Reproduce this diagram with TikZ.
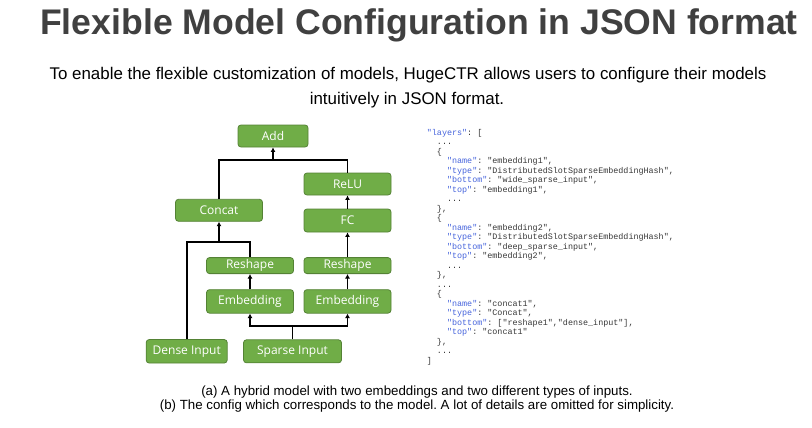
\documentclass[tikz,border=0pt]{standalone}
\usepackage{fontspec}
\setmainfont{Liberation Sans}
\setmonofont{Liberation Mono}
\newfontfamily\boxfont{Open Sans}
\usepackage{xcolor}
\usetikzlibrary{
  arrows.meta,
  positioning
}
\definecolor{layergreen}{RGB}{112,173,71}
\definecolor{layeredge}{RGB}{84,130,53}
\definecolor{titlegray}{RGB}{64,64,64}
\definecolor{jsonkey}{RGB}{70,100,220}
\definecolor{jsonval}{RGB}{55,55,55}
\newcommand{\jk}[1]{\textcolor{jsonkey}{"#1"}}
\newcommand{\lvl}[1]{\hspace*{#1em}}
\newcommand{\omitted}{...}
\frenchspacing

\begin{document}
\begin{tikzpicture}[x=1pt, y=-1pt,
  layer/.style={draw=layeredge, fill=layergreen, rounded corners=3pt, line width=0.8pt,
    text=white, font=\boxfont\fontsize{12}{14}\selectfont, inner sep=0pt},
  wire/.style={line width=1.8pt, line join=miter},
  feed/.style={wire, -{Latex[length=4.5pt,width=5pt]}},
  codeline/.style={anchor=base west, inner sep=0pt, text=jsonval,
    font=\ttfamily\fontsize{8.4}{9.5}\selectfont}]
  \useasboundingbox (0,0) rectangle (812,428);
  % Heading
  \node[anchor=base, text=titlegray, font=\bfseries\fontsize{35.6}{40}\selectfont] (title) at (419,35) {Flexible Model Configuration in JSON format};
  \node[anchor=base, font=\fontsize{16.9}{20}\selectfont] (intro1) at (408,80) {To enable the flexible customization of models, HugeCTR allows users to configure their models};
  \node[anchor=base, font=\fontsize{16.9}{20}\selectfont] (intro2) at (407,104) {intuitively in JSON format.};
  % Model graph
  \node[layer, minimum width=70pt, minimum height=22pt] (add) at (273,136) {Add};
  \node[layer, minimum width=87pt, minimum height=22pt] (relu) at (347.5,184) {ReLU};
  \node[layer, minimum width=87pt, minimum height=23pt] (fc) at (347.5,220.5) {FC};
  \node[layer, minimum width=87pt, minimum height=22pt] (concat) at (219,210.3) {Concat};
  \node[layer, minimum width=87pt, minimum height=16pt] (reshape1) at (250,265.6) {Reshape};
  \node[layer, minimum width=87pt, minimum height=16pt] (reshape2) at (347.5,265.6) {Reshape};
  \node[layer, minimum width=87pt, minimum height=23.5pt] (embed1) at (250,301.4) {Embedding};
  \node[layer, minimum width=87pt, minimum height=23.5pt] (embed2) at (347.5,301.4) {Embedding};
  \node[layer, minimum width=81pt, minimum height=23.5pt] (dense) at (186.7,351.3) {Dense Input};
  \node[layer, minimum width=98pt, minimum height=23pt] (sparse) at (292.5,351.3) {Sparse Input};
  \coordinate (sparsefork) at (292.5,325.7);
  \coordinate (concatjoin) at (219,241.7);
  \coordinate (addjoin) at (273,159.7);
  \draw[wire] (sparse) -- (sparsefork);
  \draw[feed] (sparsefork) -| (embed1);
  \draw[feed] (sparsefork) -| (embed2);
  \draw[feed] (embed1) -- (reshape1);
  \draw[feed] (embed2) -- (reshape2);
  \draw[feed] (reshape2) -- (fc);
  \draw[feed] (fc) -- (relu);
  \draw[wire] (dense) |- (concatjoin) -| (reshape1);
  \draw[feed] (concatjoin) -- (concat);
  \draw[wire] (concat) |- (addjoin) -| (relu);
  \draw[feed] (addjoin) -- (add);
  % JSON config
  \foreach \txt [count=\i] in {
    {\jk{layers}: [},
    {\lvl{1.2}\omitted},
    {\lvl{1.2}\{},
    {\lvl{2.4}\jk{name}: "embedding1",},
    {\lvl{2.4}\jk{type}: "DistributedSlotSparseEmbeddingHash",},
    {\lvl{2.4}\jk{bottom}: "wide\_sparse\_input",},
    {\lvl{2.4}\jk{top}: "embedding1",},
    {\lvl{2.4}\omitted},
    {\lvl{1.2}\},},
    {\lvl{1.2}\{},
    {\lvl{2.4}\jk{name}: "embedding2",},
    {\lvl{2.4}\jk{type}: "DistributedSlotSparseEmbeddingHash",},
    {\lvl{2.4}\jk{bottom}: "deep\_sparse\_input",},
    {\lvl{2.4}\jk{top}: "embedding2",},
    {\lvl{2.4}\omitted},
    {\lvl{1.2}\},},
    {\lvl{1.2}\omitted},
    {\lvl{1.2}\{},
    {\lvl{2.4}\jk{name}: "concat1",},
    {\lvl{2.4}\jk{type}: "Concat",},
    {\lvl{2.4}\jk{bottom}: ["reshape1","dense\_input"],},
    {\lvl{2.4}\jk{top}: "concat1"},
    {\lvl{1.2}\},},
    {\lvl{1.2}\omitted},
    {]}}
    \node[codeline] (code\i) at (426.7,{135.3+9.5*(\i-1)}) {\txt};
  % Captions
  \node[anchor=base, font=\fontsize{13.3}{15}\selectfont] (capa) at (417,395.5) {(a) A hybrid model with two embeddings and two different types of inputs.};
  \node[anchor=base, font=\fontsize{13.3}{15}\selectfont] (capb) at (417,409) {(b) The config which corresponds to the model. A lot of details are omitted for simplicity.};
\end{tikzpicture}
\end{document}
